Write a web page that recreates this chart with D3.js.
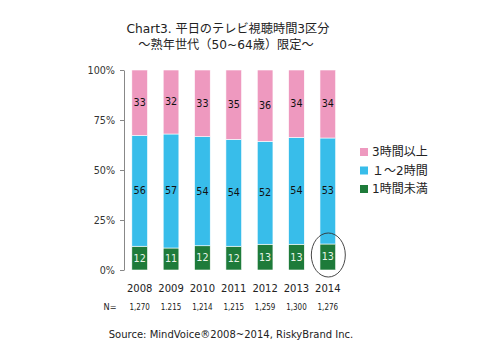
<!DOCTYPE html>
<html>
<head>
<meta charset="utf-8">
<script src="https://cdn.jsdelivr.net/npm/d3@7"></script>
<style>
  body { margin: 0; background: #fff; }
  text { font-family: "DejaVu Sans", "Noto Sans CJK JP", sans-serif; }
</style>
</head>
<body>
<div id="chart"></div>
<script>
// data
const years = ["2008", "2009", "2010", "2011", "2012", "2013", "2014"];
const sampleN = ["1,270", "1.215", "1,214", "1,215", "1,259", "1,300", "1,276"];
const under1h = [12, 11, 12, 12, 13, 13, 13];
const oneTo2h = [56, 57, 54, 54, 52, 54, 53];
const over3h = [33, 32, 33, 35, 36, 34, 34];
const seriesNames = ["1時間未満", "１～2時間", "3時間以上"];
const seriesColors = ["#1e7b3a", "#38bdea", "#ee99bf"];
const labelColors = ["#e8f4e8", "#111", "#111"];
const yTicks = [0, 0.25, 0.5, 0.75, 1];

const width = 494, height = 350;
const svg = d3.select("#chart").append("svg")
    .attr("width", width)
    .attr("height", height);

// build rows for the stack
let rows = years.map(function(y, i) {
    return {year: y, a: under1h[i], b: oneTo2h[i], c: over3h[i]};
});
let stack = d3.stack().keys(["a", "b", "c"]).offset(d3.stackOffsetExpand);
let layers = stack(rows);
let raw = [under1h, oneTo2h, over3h];

let x = d3.scaleBand()
    .domain(years)
    .range([124, 343.5])
    .paddingInner(0.5)
    .paddingOuter(0.25);

let y = d3.scaleLinear()
    .domain([0, 1])
    .range([270, 70]);

// title
svg.append("text")
    .attr("x", 228).attr("y", 33)
    .attr("text-anchor", "middle")
    .attr("font-size", 12.2)
    .attr("fill", "#222")
    .text("Chart3. 平日のテレビ視聴時間3区分");
svg.append("text")
    .attr("x", 226).attr("y", 48.5)
    .attr("text-anchor", "middle")
    .attr("font-size", 12.2)
    .attr("fill", "#222")
    .text("～熟年世代（50~64歳）限定～");

// y axis
let yAxis = svg.append("g")
    .attr("transform", "translate(124,0)")
    .call(d3.axisLeft(y).tickValues(yTicks).tickFormat(d3.format(".0%")).tickSize(4).tickSizeOuter(0));
yAxis.select(".domain").attr("stroke", "#888");
yAxis.selectAll(".tick line").attr("stroke", "#888");
yAxis.selectAll(".tick text")
    .attr("font-size", 9.6)
    .attr("fill", "#333")
    .attr("x", -9)
    .attr("font-family", "DejaVu Sans");

// bars
let layerG = svg.selectAll(".layer")
    .data(layers)
    .enter().append("g")
    .attr("class", "layer")
    .attr("fill", function(d, i) { return seriesColors[i]; });

layerG.selectAll("rect")
    .data(function(d) { return d; })
    .enter().append("rect")
    .attr("x", function(d) { return x(d.data.year); })
    .attr("width", x.bandwidth())
    .attr("y", function(d) { return y(d[1]); })
    .attr("height", function(d) { return y(d[0]) - y(d[1]); })
    .attr("stroke", "#fff")
    .attr("stroke-width", 0.6);

layerG.selectAll("text")
    .data(function(d, li) { return d.map(function(p, i) { return {p: p, li: li, v: raw[li][i]}; }); })
    .enter().append("text")
    .attr("x", function(d) { return x(d.p.data.year) + x.bandwidth() / 2; })
    .attr("y", function(d) { return (y(d.p[0]) + y(d.p[1])) / 2; })
    .attr("dy", "0.36em")
    .attr("text-anchor", "middle")
    .attr("font-size", 9.6)
    .attr("fill", function(d) { return labelColors[d.li]; })
    .text(function(d) { return d.v; });

// year labels and N row
let xAxis = svg.append("g")
    .attr("transform", "translate(0,270)")
    .call(d3.axisBottom(x).tickSize(0));
xAxis.select(".domain").remove();
xAxis.selectAll(".tick text")
    .attr("y", 21.5)
    .attr("dy", 0)
    .attr("font-size", 10)
    .attr("fill", "#222")
    .attr("font-family", "Liberation Sans, Arial, sans-serif");

svg.append("g").selectAll("text")
    .data(sampleN)
    .enter().append("text")
    .attr("x", function(d, i) { return x(years[i]) + x.bandwidth() / 2; })
    .attr("y", 309.5)
    .attr("text-anchor", "middle")
    .attr("font-size", 9.2)
    .attr("textLength", 20.5)
    .attr("lengthAdjust", "spacingAndGlyphs")
    .attr("fill", "#222")
    .text(function(d) { return d; });
svg.append("text")
    .attr("x", 103.5).attr("y", 309.5)
    .attr("font-size", 9.2)
    .attr("textLength", 13)
    .attr("lengthAdjust", "spacingAndGlyphs")
    .attr("fill", "#222")
    .text("N=");

// circle on 2014 under-1h
svg.append("ellipse")
    .attr("cx", x("2014") + x.bandwidth() / 2 + 0.5)
    .attr("cy", y(0.075))
    .attr("rx", 17)
    .attr("ry", 22)
    .attr("fill", "none")
    .attr("stroke", "#333")
    .attr("stroke-width", 0.9);

// legend
let legend = svg.append("g").selectAll("g")
    .data(seriesNames.slice().reverse())
    .enter().append("g")
    .attr("transform", function(d, i) { return "translate(360," + (148 + i * 18.5) + ")"; });
legend.append("rect")
    .attr("width", 8).attr("height", 8)
    .attr("fill", function(d, i) { return seriesColors[2 - i]; });
legend.append("text")
    .attr("x", 12).attr("y", 4)
    .attr("dy", "0.36em")
    .attr("font-size", 12)
    .attr("fill", "#222")
    .text(function(d) { return d; });

// source
svg.append("text")
    .attr("x", 231).attr("y", 338)
    .attr("text-anchor", "middle")
    .attr("font-size", 10)
    .attr("fill", "#222")
    .text("Source: MindVoice®2008~2014, RiskyBrand Inc.");
</script>
</body>
</html>
